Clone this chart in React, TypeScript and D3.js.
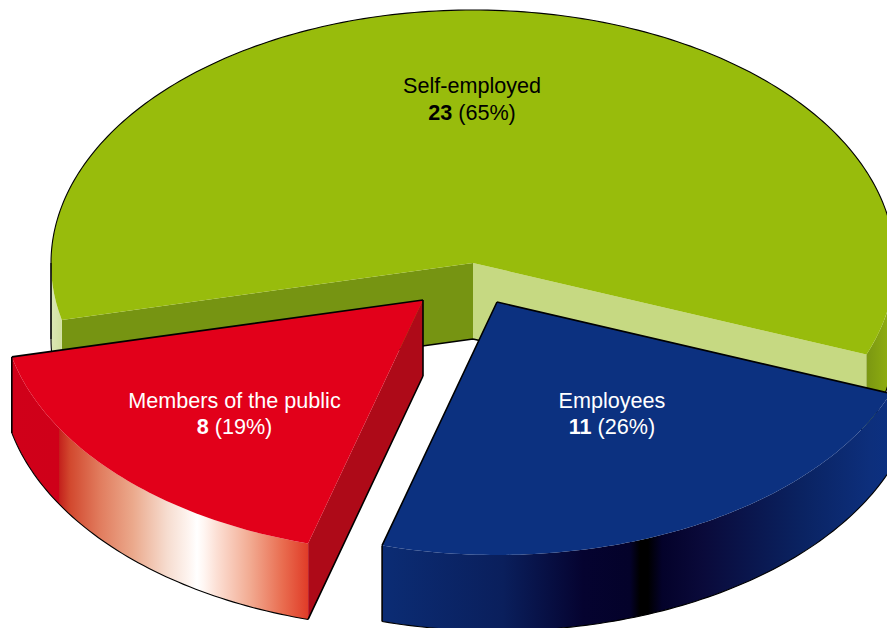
import React from "react";
import * as d3 from "d3";

// Data
const names = ["Self-employed", "Employees", "Members of the public"];
const counts = ["23", "11", "8"];
const percents = ["(65%)", "(26%)", "(19%)"];
// Drawn shares of the pie, measured from the slice corners
const drawnShares = [59.5, 23.5, 17];

const topColors = ["#98bc0c", "#0c3180", "#e2001a"];
const startWallColors = ["#769412", "#0a2a70", "#ae0a18"];
const endWallColors = ["#c6d982", "#0a2a70", "#ae0a18"];
const textColors = ["#000000", "#ffffff", "#ffffff"];
const explodeX = [0, 24, -50];
const explodeY = [0, 39, 37];
const labelX = [472, 612, 234.5];
const labelY = [93, 407.5, 407.5];
const drawOrder = [0, 2, 1];

const greenStops: [number, string][] = [
  [51, "#dce8b5"], [63, "#cfdf9d"], [866, "#7a9612"], [887, "#8dac10"],
];
const blueStops: [number, string][] = [
  [383, "#0b2c74"], [503, "#0a1f5c"], [583, "#050330"], [630, "#04022a"], [640, "#000000"], [648, "#000000"],
  [662, "#04022a"], [703, "#0a0a3a"], [803, "#0a2362"], [870, "#0d2f7c"], [887, "#0c3080"],
];
const redStops: [number, string][] = [
  [12, "#d00019"], [59, "#cf0019"], [59.6, "#c4221c"], [70, "#d2482e"], [100, "#e17c5e"],
  [133, "#eba98c"], [167, "#f6dccf"], [190, "#fef6f2"], [197, "#ffffff"], [204, "#fff6f2"],
  [217, "#fcdfd4"], [250, "#f2ab92"], [283, "#e96c4f"], [308, "#e03c28"],
];
const sideStops = [greenStops, blueStops, redStops];

const WIDTH = 887;
const HEIGHT = 628;
const CX = 473;
const CY = 263;
const RX = 422;
const RY = 253;
const DEPTH = 76;
const FONT = "'Liberation Sans', Arial, sans-serif";
const EDGE_STROKE = 1.6;
const RIM_STROKE = 1.1;

const toDeg = (r: number) => (r * 180) / Math.PI;
const toRad = (d: number) => (d * Math.PI) / 180;

// pie runs clockwise from 12 o'clock; the green slice starts at t=167 deg (screen angle from 3 o'clock)
const pie = d3.pie<number>().sort(null).value((d) => d)
  .startAngle(toRad(257)).endAngle(toRad(257 + 360));
const arcs = pie(drawnShares);
const xScale = d3.scaleLinear().domain([-1, 1]).range([CX - RX, CX + RX]);
const yScale = d3.scaleLinear().domain([-1, 1]).range([CY - RY, CY + RY]);
const line = d3.line();

type Pt = [number, number];

function App() {
  const slices = arcs.map((arc, i) => {
    const t0 = toDeg(arc.startAngle) - 90;
    const t1 = toDeg(arc.endAngle) - 90;
    const ex = explodeX[i];
    const ey = explodeY[i];
    const rim = (t: number, drop = 0): Pt => [
      xScale(Math.cos(toRad(t))) + ex,
      yScale(Math.sin(toRad(t))) + ey + drop,
    ];
    const apex = (drop = 0): Pt => [CX + ex, CY + ey + drop];
    const sample = (a: number, b: number, drop = 0): Pt[] => {
      const n = Math.max(2, Math.ceil(Math.abs(b - a)));
      return d3.range(n + 1).map((k) => rim(a + ((b - a) * k) / n, drop));
    };
    const top = line([apex(), ...sample(t0, t1)]) + "Z";

    // parts of the rim that face the viewer (sin t > 0) or that face away
    const front: [number, number][] = [];
    const back: [number, number][] = [];
    const breaks = [-360, -180, 0, 180, 360, 540, 720].filter((b) => b > t0 && b < t1);
    const edges = [t0, ...breaks, t1];
    d3.pairs(edges).forEach(([a, b]) => {
      (Math.sin(toRad((a + b) / 2)) > 0 ? front : back).push([a, b]);
    });

    const faces: { d: string; fill: string }[] = [];
    const outline: string[] = [];
    const curves: string[] = [];
    const startVisible = Math.cos(toRad(t0)) < 0;
    const endVisible = Math.cos(toRad(t1)) > 0;
    if (startVisible) {
      faces.push({ d: line([apex(), rim(t0), rim(t0, DEPTH), apex(DEPTH)]) + "Z", fill: startWallColors[i] });
      outline.push(line([apex(DEPTH), rim(t0, DEPTH)])!);
    } else {
      outline.push(line([apex(), rim(t0)])!, line([rim(t0), rim(t0, DEPTH)])!);
    }
    if (endVisible) {
      faces.push({ d: line([apex(), rim(t1), rim(t1, DEPTH), apex(DEPTH)]) + "Z", fill: endWallColors[i] });
      outline.push(line([apex(DEPTH), rim(t1, DEPTH)])!);
    } else {
      outline.push(line([apex(), rim(t1)])!, line([rim(t1), rim(t1, DEPTH)])!);
    }
    if (startVisible !== endVisible) outline.push(line([apex(), apex(DEPTH)])!);

    front.forEach(([a, b]) => {
      faces.push({
        d: line([...sample(a, b), ...sample(b, a, DEPTH)]) + "Z",
        fill: `url(#side-${i})`,
      });
      curves.push(line(sample(a, b, DEPTH))!);
    });
    back.forEach(([a, b]) => curves.push(line(sample(a, b))!));
    breaks.forEach((b) => outline.push(line([rim(b), rim(b, DEPTH)])!));

    return { i, top, faces, outline: outline.join(""), curves: curves.join("") };
  });

  return (
    <svg
      width={WIDTH}
      height={HEIGHT}
      viewBox={`0 0 ${WIDTH} ${HEIGHT}`}
      style={{ position: "absolute", left: 0, top: 0, display: "block", background: "#fff" }}
    >
      <defs>
        {sideStops.map((stops, i) => {
          const x0 = stops[0][0];
          const x1 = stops[stops.length - 1][0];
          return (
            <linearGradient key={i} id={`side-${i}`} gradientUnits="userSpaceOnUse" x1={x0} x2={x1} y1={0} y2={0}>
              {stops.map(([x, c], k) => (
                <stop key={k} offset={(x - x0) / (x1 - x0)} stopColor={c} />
              ))}
            </linearGradient>
          );
        })}
      </defs>
      {drawOrder.map((i) => {
        const s = slices[i];
        return (
          <g key={i}>
            {s.faces.map((f, k) => (
              <path key={k} d={f.d} fill={f.fill} />
            ))}
            <path d={s.top} fill={topColors[i]} />
            <path d={s.curves} fill="none" stroke="#000" strokeWidth={RIM_STROKE} />
            <path d={s.outline} fill="none" stroke="#000" strokeWidth={EDGE_STROKE} strokeLinejoin="miter" />
          </g>
        );
      })}
      {names.map((name, i) => (
        <text key={i} textAnchor="middle" fontFamily={FONT} fontSize={21.6} fill={textColors[i]}>
          <tspan x={labelX[i]} y={labelY[i]}>{name}</tspan>
          <tspan x={labelX[i]} y={labelY[i] + 26.5}>
            <tspan fontWeight="bold">{counts[i]}</tspan> {percents[i]}
          </tspan>
        </text>
      ))}
    </svg>
  );
}

export default App;
